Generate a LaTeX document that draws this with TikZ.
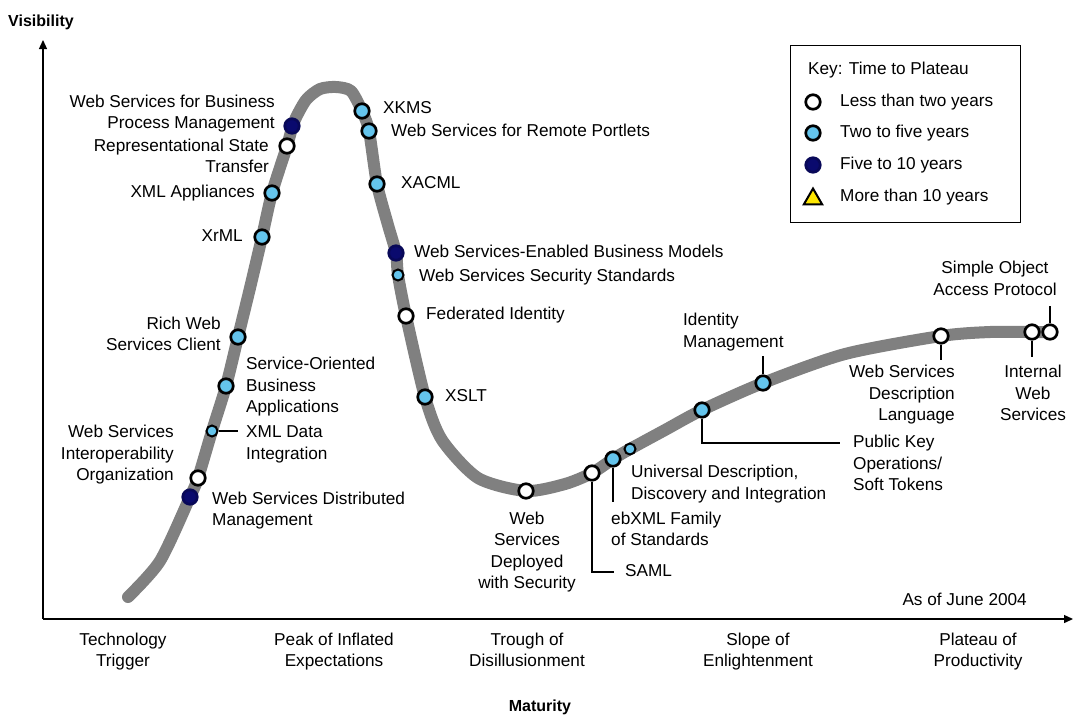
\documentclass[tikz,border=0pt]{standalone}
\usepackage{fontspec}
\setmainfont{Liberation Sans}
\usetikzlibrary{arrows.meta,shapes.geometric}
\definecolor{lblue}{RGB}{100,196,236}
\definecolor{navy}{RGB}{10,10,110}
\definecolor{curvegray}{RGB}{128,128,128}
\tikzset{
  dotbase/.style={circle, inner sep=0pt, minimum size=14.5pt, line width=2.7pt, draw=black},
  dotw/.style={dotbase, fill=white},
  dotb/.style={dotbase, fill=lblue},
  dotn/.style={dotbase, fill=navy, draw=navy!80!black},
  dots/.style={dotb, minimum size=11pt, line width=2pt},
  lbl/.style={inner sep=0pt, font=\fontsize{17.2}{21.5}\selectfont},
  conn/.style={draw=black, line width=1.3pt},
  axis/.style={line width=1.3pt, -{Triangle[length=9pt,width=8pt]}}
}
\begin{document}
\begin{tikzpicture}[x=1pt,y=-1pt]
\useasboundingbox (0,0) rectangle (1075,715);
\fill[white] (0,0) rectangle (1075,715);

% axes
\coordinate (origin) at (43,619);
\coordinate (ytip) at (43,40);
\coordinate (xtip) at (1073,619);
\draw[axis] (origin) -- (ytip);
\draw[axis] (origin) -- (xtip);
\node[lbl, font=\fontsize{16}{19}\selectfont\bfseries] (vis) at (41,22) {Visibility};
\node[lbl, font=\fontsize{16}{19}\selectfont\bfseries] (mat) at (540,707) {Maturity};

% curve
\draw[curvegray, line width=12pt, line cap=round, line join=round]
  plot[smooth, tension=0.45] coordinates {
  (128,597) (160,561) (190,497) (198,478) (212,431) (226,386) (238,337)
  (250,288) (262,237) (272,193) (287,146) (294,122) (306,100) (320,89)
  (336,87) (351,91) (362,111) (369,131) (377,184) (388,225) (396,253)
  (398,275) (406,316) (425,397) (442,440) (478,478) (526,491) (565,484)
  (592,473) (613,459) (630,449) (665,430) (702,410) (763,383) (845,354)
  (941,336) (990,332) (1032,332) (1050,332)};

% connector end points
\coordinate (xmldc) at (238,431);
\coordinate (samlc) at (614,572);
\coordinate (ebxmlc) at (613,502);
\coordinate (pkoc) at (840,443);
\coordinate (idmc) at (763,356);
\coordinate (wsdlc) at (941,360);
\coordinate (iwsc) at (1032,357);
\coordinate (soapc) at (1050,306);

% dots
\node[dotn] (wsdm)  at (190,497) {};
\node[dotw] (wsio)  at (198,478) {};
\node[dots] (xmld)  at (212,431) {};
\node[dotb] (soba)  at (226,386) {};
\node[dotb] (rwsc)  at (238,337) {};
\node[dotb] (xrml)  at (262,237) {};
\node[dotb] (xmla)  at (272,193) {};
\node[dotw] (rest)  at (287,146) {};
\node[dotn] (wsbpm) at (292,126) {};
\node[dotb] (xkms)  at (362,111) {};
\node[dotb] (wsrp)  at (369,131) {};
\node[dotb] (xacml) at (377,184) {};
\node[dotn] (wseb)  at (396,253) {};
\node[dots] (wsss)  at (398,275) {};
\node[dotw] (fedid) at (406,316) {};
\node[dotb] (xslt)  at (425,397) {};
\node[dotw] (wsds)  at (526,491) {};
\node[dotw] (saml)  at (592,473) {};
\node[dotb] (ebxml) at (613,459) {};
\node[dots] (uddi)  at (630,449) {};
\node[dotb] (pko)   at (702,410) {};
\node[dotb] (idm)   at (763,383) {};
\node[dotw] (wsdl)  at (941,336) {};
\node[dotw] (iws)   at (1032,332) {};
\node[dotw] (soap)  at (1050,332) {};

% connectors
\draw[conn] (xmld.east) -- (xmldc);
\draw[conn] (saml.south) |- (samlc);
\draw[conn] (ebxml.south) -- (ebxmlc);
\draw[conn] (pko.south) |- (pkoc);
\draw[conn] (idm.north) -- (idmc);
\draw[conn] (wsdl.south) -- (wsdlc);
\draw[conn] (iws.south) -- (iwsc);
\draw[conn] (soap.north) -- (soapc);

% labels left of the rising slope
\node[lbl, align=right, anchor=east] (Lwsbpm) at (275,113.5) {Web Services for Business\strut\\Process Management\strut};
\node[lbl, align=right, anchor=east] (Lrest) at (269,157.5) {Representational State\strut\\Transfer\strut};
\node[lbl, anchor=east] (Lxmla) at (255,193) {XML Appliances\strut};
\node[lbl, anchor=east] (Lxrml) at (243,237) {XrML\strut};
\node[lbl, align=right, anchor=east] (Lrwsc) at (221,335.5) {Rich Web\strut\\Services Client\strut};
\node[lbl, align=left, anchor=west] (Lsoba) at (246,387) {Service-Oriented\strut\\Business\strut\\Applications\strut};
\node[lbl, align=left, anchor=west] (Lxmld) at (246,444) {XML Data\strut\\Integration\strut};
\node[lbl, align=right, anchor=east] (Lwsio) at (174,455) {Web Services\strut\\Interoperability\strut\\Organization\strut};
\node[lbl, align=left, anchor=west] (Lwsdm) at (212,510.5) {Web Services Distributed\strut\\Management\strut};

% labels right of the falling slope
\node[lbl, anchor=west] (Lxkms) at (383,109) {XKMS\strut};
\node[lbl, anchor=west] (Lwsrp) at (391,132) {Web Services for Remote Portlets\strut};
\node[lbl, anchor=west] (Lxacml) at (401,184) {XACML\strut};
\node[lbl, anchor=west] (Lwseb) at (414,253) {Web Services-Enabled Business Models\strut};
\node[lbl, anchor=west] (Lwsss) at (419,277) {Web Services Security Standards\strut};
\node[lbl, anchor=west] (Lfedid) at (426,315) {Federated Identity\strut};
\node[lbl, anchor=west] (Lxslt) at (445,397) {XSLT\strut};

% trough and slope labels
\node[lbl, align=center] (Lwsds) at (527,552) {Web\strut\\Services\strut\\Deployed\strut\\with Security\strut};
\node[lbl, anchor=west] (Lsaml) at (625,572) {SAML\strut};
\node[lbl, align=left, anchor=west] (Lebxml) at (611,530.5) {ebXML Family\strut\\of Standards\strut};
\node[lbl, align=left, anchor=west] (Luddi) at (631,484) {Universal Description,\strut\\Discovery and Integration\strut};
\node[lbl, align=left, anchor=west] (Lpko) at (853,465) {Public Key\strut\\Operations/\strut\\Soft Tokens\strut};
\node[lbl, align=left, anchor=west] (Lidm) at (683,332) {Identity\strut\\Management\strut};
\node[lbl, align=right, anchor=east] (Lwsdl) at (955,395) {Web Services\strut\\Description\strut\\Language\strut};
\node[lbl, align=center] (Liws) at (1033,395) {Internal\strut\\Web\strut\\Services\strut};
\node[lbl, align=center] (Lsoap) at (995,280) {Simple Object\strut\\Access Protocol\strut};

% bottom axis labels
\node[lbl, anchor=east] (asof) at (1027,601) {As of June 2004\strut};
\node[lbl, align=center] (ph1) at (123,651.5) {Technology\strut\\Trigger\strut};
\node[lbl, align=center] (ph2) at (334,651.5) {Peak of Inflated\strut\\Expectations\strut};
\node[lbl, align=center] (ph3) at (527,651.5) {Trough of\strut\\Disillusionment\strut};
\node[lbl, align=center] (ph4) at (758,651.5) {Slope of\strut\\Enlightenment\strut};
\node[lbl, align=center] (ph5) at (978,651.5) {Plateau of\strut\\Productivity\strut};

% legend
\node[draw=black, line width=1pt, minimum width=230pt, minimum height=177pt, inner sep=0pt] (key) at (905,133.5) {};
\node[lbl, anchor=west] (keyt) at (808,70) {Key: Time to Plateau\strut};
\node[dotw] (k1) at (813,102) {};
\node[dotb] (k2) at (813,133) {};
\node[dotn] (k3) at (813,165) {};
\node[regular polygon, regular polygon sides=3, draw=black, line width=2pt, fill=yellow!90!orange, minimum size=21pt, inner sep=0pt] (k4) at (813,199) {};
\node[lbl, anchor=west] (k1t) at (840,102) {Less than two years\strut};
\node[lbl, anchor=west] (k2t) at (840,133) {Two to five years\strut};
\node[lbl, anchor=west] (k3t) at (840,165) {Five to 10 years\strut};
\node[lbl, anchor=west] (k4t) at (840,197) {More than 10 years\strut};
\end{tikzpicture}
\end{document}
